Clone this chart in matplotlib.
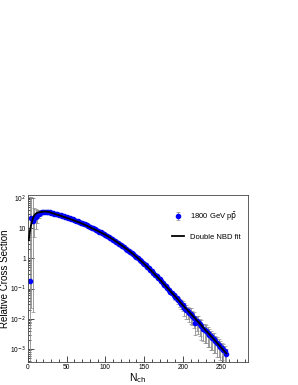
import numpy as np
import matplotlib
matplotlib.use("Agg")
import matplotlib.pyplot as plt
from matplotlib.ticker import FixedLocator, FuncFormatter, LogLocator, MultipleLocator, NullFormatter

plt.rcParams['font.family'] = ['Liberation Sans', 'DejaVu Sans']

# measured multiplicity distribution, N_ch = 2, 4, ..., 256
nch = np.arange(2, 258, 2)
xsec = [
    0.18, 22, 17, 21, 24, 27, 30, 32, 34, 35,
    35.5, 35.5, 34.5, 33.5, 32.5, 31.5, 30.5, 29.5, 28.5, 27.5,
    26.5, 25.5, 24.5, 23.5, 22.5, 21.8, 21.0, 20.3, 19.5, 18.0,
    17.3, 16.6, 16.0, 15.3, 14.5, 13.8, 13.2, 12.5, 11.9, 11.0,
    10.4, 9.9, 9.3, 8.8, 8.2, 7.7, 7.2, 6.8, 6.3, 5.9,
    5.5, 5.1, 4.7, 4.4, 4.1, 3.8, 3.5, 3.2, 2.95, 2.75,
    2.5, 2.3, 2.1, 1.9, 1.8, 1.65, 1.5, 1.35, 1.22, 1.1,
    1.0, 0.9, 0.8, 0.72, 0.65, 0.58, 0.52, 0.47, 0.42, 0.37,
    0.33, 0.29, 0.26, 0.225, 0.2, 0.175, 0.155, 0.135, 0.118, 0.104,
    0.092, 0.079, 0.07, 0.061, 0.054, 0.047, 0.041, 0.036, 0.031, 0.028,
    0.023, 0.019, 0.018, 0.016, 0.0148, 0.0125, 0.011, 0.0075, 0.0085, 0.0078,
    0.0067, 0.0058, 0.0045, 0.0044, 0.0040, 0.0034, 0.0030, 0.0026, 0.0023, 0.0021,
    0.0018, 0.0016, 0.0014, 0.0012, 0.00107, 0.00093, 0.00085, 0.0007,
]
# relative errors (lower side / upper side)
rel_lo = [
    1.0, 1.0, 1.0, 0.75, 0.6, 0.45, 0.3, 0.2, 0.12, 0.08,
    0.05, 0.04, 0.03, 0.03, 0.03, 0.03, 0.03, 0.03, 0.03, 0.03,
    0.03, 0.03, 0.03, 0.03, 0.03, 0.03, 0.03, 0.03, 0.03, 0.03,
    0.03, 0.03, 0.03, 0.03, 0.03, 0.03, 0.03, 0.03, 0.03, 0.03,
    0.03, 0.03, 0.03, 0.03, 0.03, 0.03, 0.03, 0.03, 0.03, 0.03,
    0.03, 0.03, 0.03, 0.03, 0.03, 0.03, 0.03, 0.03, 0.03, 0.03,
    0.04, 0.04, 0.04, 0.04, 0.04, 0.04, 0.04, 0.04, 0.04, 0.04,
    0.05, 0.05, 0.05, 0.05, 0.05, 0.05, 0.05, 0.05, 0.05, 0.05,
    0.08, 0.08, 0.08, 0.08, 0.08, 0.1, 0.1, 0.1, 0.1, 0.1,
    0.15, 0.15, 0.15, 0.15, 0.2, 0.2, 0.25, 0.3, 0.3, 0.35,
    0.45, 0.5, 0.45, 0.5, 0.55, 0.5, 0.55, 0.6, 0.55, 0.6,
    0.6, 0.65, 0.6, 0.65, 0.6, 0.65, 0.6, 0.65, 0.6, 0.65,
    0.6, 0.65, 0.6, 0.65, 0.6, 0.65, 0.6, 0.5,
]
rel_hi = [
    600, 4, 5, 1.2, 0.8, 0.5, 0.3, 0.2, 0.12, 0.08,
    0.05, 0.04, 0.03, 0.03, 0.03, 0.03, 0.03, 0.03, 0.03, 0.03,
    0.03, 0.03, 0.03, 0.03, 0.03, 0.03, 0.03, 0.03, 0.03, 0.03,
    0.03, 0.03, 0.03, 0.03, 0.03, 0.03, 0.03, 0.03, 0.03, 0.03,
    0.03, 0.03, 0.03, 0.03, 0.03, 0.03, 0.03, 0.03, 0.03, 0.03,
    0.03, 0.03, 0.03, 0.03, 0.03, 0.03, 0.03, 0.03, 0.03, 0.03,
    0.04, 0.04, 0.04, 0.04, 0.04, 0.04, 0.04, 0.04, 0.04, 0.04,
    0.05, 0.05, 0.05, 0.05, 0.05, 0.05, 0.05, 0.05, 0.05, 0.05,
    0.08, 0.08, 0.08, 0.08, 0.08, 0.1, 0.1, 0.1, 0.1, 0.1,
    0.15, 0.15, 0.15, 0.15, 0.2, 0.2, 0.25, 0.3, 0.3, 0.35,
    0.4, 0.45, 0.4, 0.45, 0.5, 0.45, 0.5, 0.55, 0.5, 0.55,
    0.5, 0.55, 0.5, 0.55, 0.5, 0.55, 0.5, 0.55, 0.5, 0.55,
    0.5, 0.55, 0.5, 0.55, 0.5, 0.55, 0.5, 0.4,
]

# double NBD fit
fit_n = [1, 2, 4, 6, 8, 10, 12, 15, 18, 21, 24, 28, 32, 40, 50, 60, 70, 80, 90, 100,
         110, 120, 130, 140, 150, 160, 170, 180, 190, 200, 210, 220, 230, 240, 250, 256]
fit_y = [4.0, 7.0, 12.6, 20.0, 26.3, 30.2, 32.4, 33.9, 34.7, 35.5, 35.5, 33.9, 30.9,
         26.9, 21.9, 17.8, 14.1, 10.7, 8.1, 6.0, 4.2, 2.8, 1.82, 1.12, 0.66, 0.37,
         0.2, 0.105, 0.055, 0.028, 0.0148, 0.0078, 0.004, 0.0021, 0.00107, 0.00072]

xsec = np.array(xsec)
err_lo = xsec * np.array(rel_lo) * 0.999
err_hi = xsec * np.array(rel_hi)

fig = plt.figure(figsize=(2.98, 3.85), dpi=100)
ax = fig.add_axes([0.094, 0.0597, 0.738, 0.4338])

pts = ax.errorbar(nch, xsec, yerr=[err_lo, err_hi], fmt='o', color='#0000ff', ms=3.0,
                  mec='#0000ff', ecolor='#8c8c8c', elinewidth=0.6, capsize=1.2, capthick=0.5,
                  zorder=2)
fit_line, = ax.plot(fit_n, fit_y, color='black', lw=1.3, zorder=3)

ax.set_yscale('log')
ax.set_xlim(0, 284)
ax.set_ylim(3.7e-4, 125)

ax.xaxis.set_major_locator(MultipleLocator(50))
ax.xaxis.set_minor_locator(MultipleLocator(10))
ax.yaxis.set_major_locator(FixedLocator([1e-3, 1e-2, 1e-1, 1, 10, 100]))
ax.yaxis.set_minor_locator(LogLocator(base=10, subs=np.arange(2, 10)))
ax.yaxis.set_minor_formatter(NullFormatter())


def fmt_y(v, pos):
    e = int(round(np.log10(v)))
    if e == 0:
        return '1'
    if e == 1:
        return '10'
    return r'10$^{%d}$' % e


ax.yaxis.set_major_formatter(FuncFormatter(fmt_y))
ax.tick_params(which='both', direction='in', labelsize=4.8, width=0.5, pad=1.5)
ax.tick_params(which='major', length=4)
ax.tick_params(which='minor', length=2)
for s in ax.spines.values():
    s.set_linewidth(0.6)
    s.set_color('#444444')

ax.set_xlabel(r'N$_{\rm ch}$', fontsize=7.5, labelpad=0)
ax.set_ylabel('Relative Cross Section', fontsize=7)
ax.yaxis.set_label_coords(-0.082, 0.5)

ax.legend([pts, fit_line], [r'1800 GeV p$\bar{\rm p}$', 'Double NBD fit'],
          loc='upper right', bbox_to_anchor=(1.0, 0.95), frameon=False,
          fontsize=5.5, handlelength=1.6, labelspacing=1.4)

fig.savefig('out.png', dpi=100)
